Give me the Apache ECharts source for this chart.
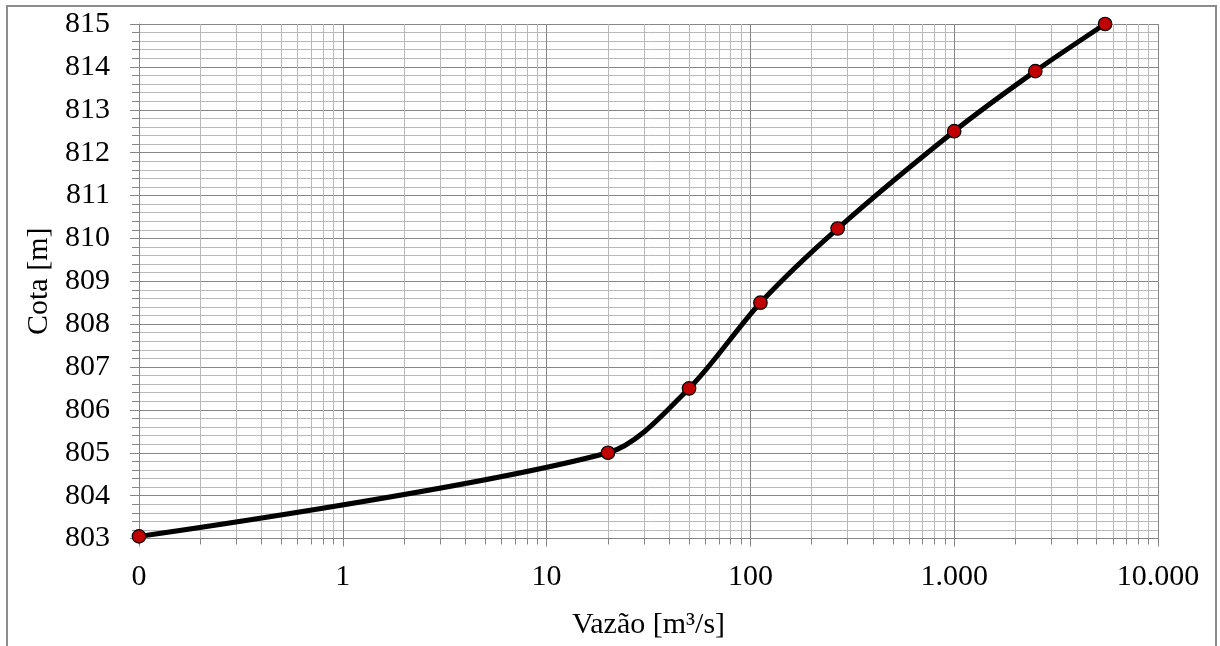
<!DOCTYPE html>
<html>
<head>
<meta charset="utf-8">
<script src="https://cdn.jsdelivr.net/npm/echarts@6/dist/echarts.min.js"></script>
<style>
  html, body { margin: 0; padding: 0; background: #fff; }
  #chart { width: 1220px; height: 646px; }
</style>
</head>
<body>
<div id="chart"></div>
<script>
// Rating curve: discharge (log scale) vs water level
const vazao = [0.1, 20, 50, 112, 268, 1000, 2500, 5500];
const cota = [803.05, 805.0, 806.5, 808.5, 810.23, 812.5, 813.9, 815.0];

const xAxisTitle = 'Vazão [m³/s]';
const yAxisTitle = 'Cota [m]';

const FONT = '"Liberation Serif", "Times New Roman", serif';
const MAJOR = '#868686';
const MINOR = '#b9b9b9';

function fmtThousands(v) {
  if (v < 1) return '0';
  return String(Math.round(v)).replace(/\B(?=(\d{3})+(?!\d))/g, '.');
}

const chart = echarts.init(document.getElementById('chart'), null, { renderer: 'canvas' });

chart.setOption({
  animation: false,
  backgroundColor: '#ffffff',
  graphic: [{
    type: 'rect',
    shape: { x: 7, y: 6, width: 1209, height: 720 },
    style: { fill: 'none', stroke: '#8c8c8c', lineWidth: 2 },
    silent: true
  }],
  grid: { left: 139, top: 24, width: 1019, height: 514.5, containLabel: false },
  xAxis: {
    type: 'log',
    logBase: 10,
    min: 0.1,
    max: 10000,
    name: xAxisTitle,
    nameLocation: 'middle',
    nameGap: 72,
    nameTextStyle: { fontFamily: FONT, fontSize: 30, color: '#000' },
    axisLine: { show: true, lineStyle: { color: MAJOR, width: 1 } },
    axisTick: { show: true, inside: false, length: 8, lineStyle: { color: MAJOR } },
    minorTick: { show: true, splitNumber: 9, length: 6, lineStyle: { color: MAJOR } },
    splitLine: { show: true, lineStyle: { color: MAJOR, width: 1 } },
    minorSplitLine: { show: true, lineStyle: { color: MINOR, width: 1 } },
    axisLabel: {
      fontFamily: FONT, fontSize: 30, color: '#000', margin: 24,
      formatter: fmtThousands
    }
  },
  yAxis: {
    type: 'value',
    min: 803,
    max: 815,
    interval: 1,
    name: yAxisTitle,
    nameLocation: 'middle',
    nameGap: 84,
    nameTextStyle: { fontFamily: FONT, fontSize: 30, color: '#000' },
    axisLine: { show: true, lineStyle: { color: MAJOR, width: 1 } },
    axisTick: { show: true, inside: false, length: 9, lineStyle: { color: MAJOR } },
    minorTick: { show: true, splitNumber: 5, length: 7, lineStyle: { color: MAJOR } },
    splitLine: { show: true, lineStyle: { color: MAJOR, width: 1 } },
    minorSplitLine: { show: true, lineStyle: { color: MINOR, width: 1 } },
    axisLabel: { fontFamily: FONT, fontSize: 30, color: '#000', margin: 29 }
  },
  series: [{
    type: 'line',
    data: vazao.map((v, i) => [v, cota[i]]),
    smooth: 0.3,
    lineStyle: { color: '#000', width: 5 },
    symbol: 'circle',
    symbolSize: 13.5,
    itemStyle: { color: '#c00000', borderColor: '#000', borderWidth: 1.2 },
    z: 5
  }]
});
</script>
</body>
</html>
